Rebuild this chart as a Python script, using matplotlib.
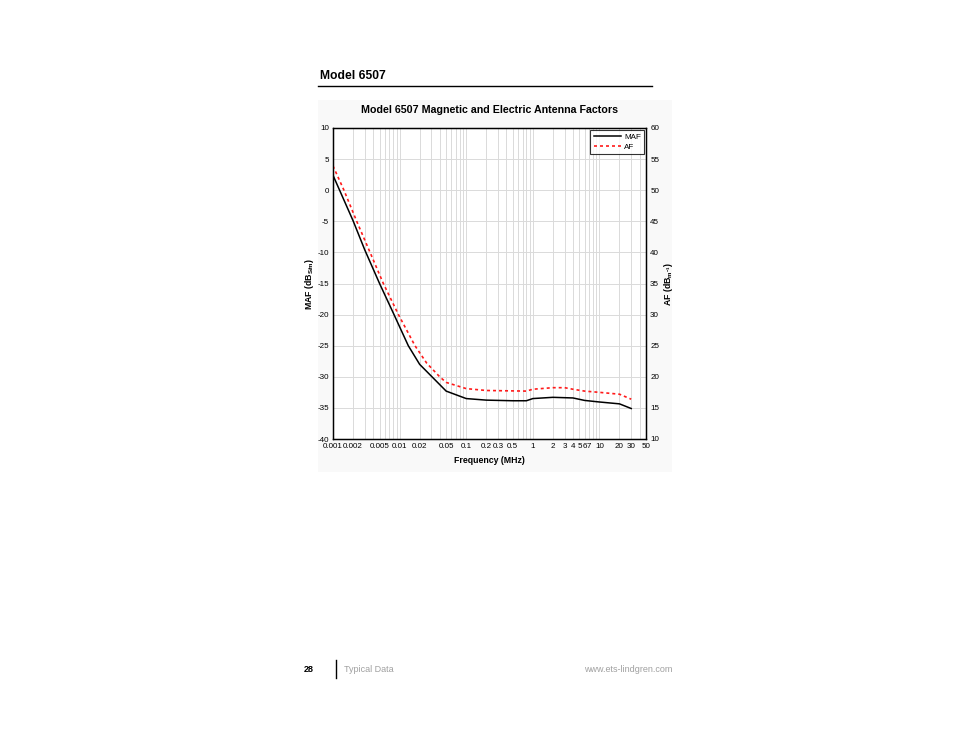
import matplotlib.pyplot as plt
from matplotlib.patches import Rectangle
from matplotlib.ticker import FixedLocator, FixedFormatter, NullFormatter

plt.rcParams["font.family"] = ["Liberation Sans", "DejaVu Sans"]
plt.rcParams["axes.unicode_minus"] = False

# data (frequency in MHz)
maf_freq = [0.001, 0.002, 0.003, 0.005, 0.008, 0.0135, 0.02, 0.05, 0.1, 0.2,
            0.5, 0.8, 1.0, 2.0, 4.0, 6.0, 10.0, 20.0, 30.0]
maf_vals = [2.4, -4.9, -9.6, -15.0, -19.7, -25.0, -28.0, -32.3, -33.5, -33.75,
            -33.85, -33.85, -33.5, -33.3, -33.4, -33.8, -34.05, -34.35, -35.1]

af_freq = [0.001, 0.00146, 0.00227, 0.0036, 0.0057, 0.0096, 0.017, 0.0255, 0.04,
           0.05, 0.1, 0.2, 0.8, 1.0, 2.0, 3.0, 4.0, 6.0, 10.0, 20.0, 30.0]
af_vals = [53.9, 50.0, 45.0, 40.0, 35.0, 30.0, 25.0, 22.2, 20.0,
           19.1, 18.1, 17.8, 17.7, 18.0, 18.25, 18.25, 18.0, 17.7, 17.5, 17.2, 16.4]

xticks = [0.001, 0.002, 0.005, 0.01, 0.02, 0.05, 0.1, 0.2, 0.3, 0.5, 1, 2, 3, 4,
          5, 6, 7, 10, 20, 30, 50]
xlabels = ["0.001", "0.002", "0.005", "0.01", "0.02", "0.05", "0.1", "0.2", "0.3",
           "0.5", "1", "2", "3", "4", "5", "6", "7", "10", "20", "30", "50"]

fig = plt.figure(figsize=(9.54, 7.38), dpi=100)
fig.patch.set_facecolor("white")

# light panel behind the chart
fig.patches.append(Rectangle((318 / 954, 1 - 472 / 738), 354 / 954, 372 / 738,
                             transform=fig.transFigure, facecolor="#f9f9f9",
                             edgecolor="none", zorder=-5))

# page header
fig.text(320 / 954, 1 - 76 / 738, "Model 6507", fontsize=8.7, fontweight="bold",
         va="center", ha="left")
fig.add_artist(plt.Line2D([318 / 954, 652 / 954], [1 - 86 / 738, 1 - 86 / 738],
                          transform=fig.transFigure, color="black", linewidth=1))

fig.text(490 / 954, 1 - 110 / 738, "Model 6507 Magnetic and Electric Antenna Factors",
         fontsize=7.7, fontweight="bold", ha="center", va="center")

ax = fig.add_axes([333 / 954, 1 - 439 / 738, 313 / 954, 311 / 738])
ax.set_facecolor("white")
ax.set_xscale("log")
ax.set_xlim(0.001, 50)
ax.set_ylim(-40, 10)
ax.set_yticks(range(-40, 11, 5))

ax.xaxis.set_major_locator(FixedLocator(xticks))
ax.xaxis.set_major_formatter(FixedFormatter(xlabels))
ax.xaxis.set_minor_formatter(NullFormatter())
ax.grid(True, which="both", axis="x", color="#dadada", linewidth=0.7)
ax.grid(True, which="major", axis="y", color="#dadada", linewidth=0.7)
ax.set_axisbelow(True)
ax.tick_params(axis="both", which="both", length=0, labelsize=5.8, pad=3)
for s in ax.spines.values():
    s.set_color("black")
    s.set_linewidth(1)

l1, = ax.plot(maf_freq, maf_vals, color="black", linewidth=1.1, label="MAF")

ax2 = ax.twinx()
ax2.set_ylim(10, 60)
ax2.set_yticks(range(10, 61, 5))
ax2.tick_params(axis="y", length=0, labelsize=5.8, pad=3)
l2, = ax2.plot(af_freq, af_vals, color="#ff1a1a", linewidth=1.2,
               linestyle=(0, (1.8, 1.8)), label="AF")

ax.set_xlabel("Frequency (MHz)", fontsize=6.3, fontweight="bold", labelpad=4)
ax.set_ylabel("MAF (dB$_{\\mathregular{S/m}}$)", fontsize=6.3, fontweight="bold",
              labelpad=1)
ax2.set_ylabel("AF (dB$_{\\mathregular{m^{-1}}}$)", fontsize=6.3, fontweight="bold",
               labelpad=2)

leg = ax2.legend([l1, l2], ["MAF", "AF"], loc="upper right", fontsize=5.8,
                 frameon=True, fancybox=False, edgecolor="black",
                 borderaxespad=0.2, handlelength=3.3, handletextpad=0.4,
                 labelspacing=0.25, borderpad=0.45)
leg.get_frame().set_linewidth(0.8)

# footer
fig.text(304 / 954, 1 - 669 / 738, "28", fontsize=6.5, fontweight="bold",
         ha="left", va="center")
fig.add_artist(plt.Line2D([336 / 954, 336 / 954], [1 - 660 / 738, 1 - 678 / 738],
                          transform=fig.transFigure, color="black", linewidth=1))
fig.text(344 / 954, 1 - 669 / 738, "Typical Data", fontsize=6.5, color="#a0a0a0",
         ha="left", va="center")
fig.text(672 / 954, 1 - 669 / 738, "www.ets-lindgren.com", fontsize=6.5,
         color="#a0a0a0", ha="right", va="center")

fig.savefig("out.png", dpi=100)
